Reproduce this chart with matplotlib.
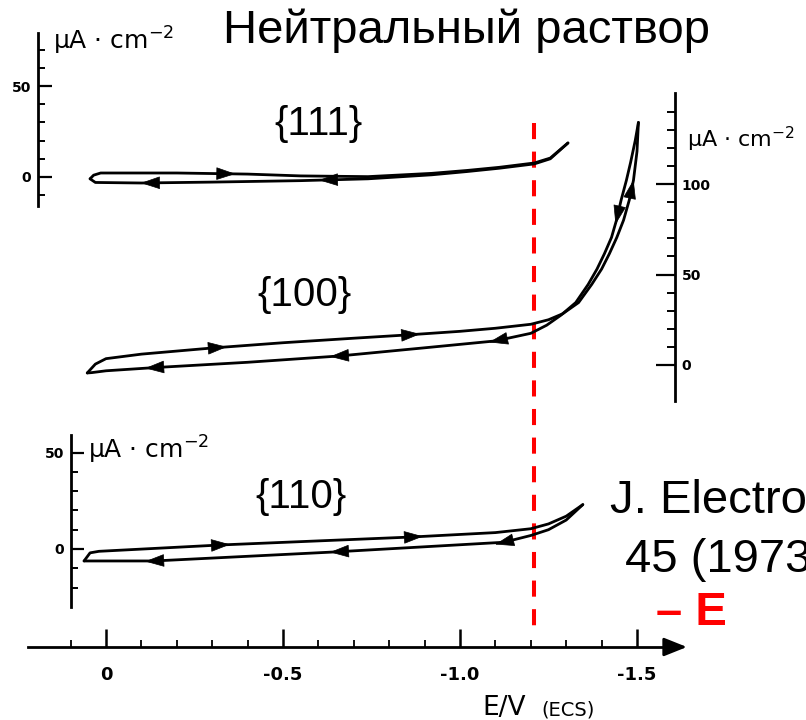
import numpy as np
import matplotlib
matplotlib.use('Agg')
import matplotlib.pyplot as plt
from matplotlib.ticker import FixedLocator, FixedFormatter


# cyclic voltammograms, E in V (ECS), j in uA/cm2
E111_FWD = [0.045, 0.035, 0.015, -0.2, -0.4, -0.55, -0.74, -0.92, -1.02, -1.11, -1.21, -1.255, -1.305]
I111_FWD = [-1.0, 1.0, 2.2, 2.2, 1.6, 0.6, 0.2, 2.0, 3.6, 5.3, 7.7, 10.4, 18.7]
E111_REV = [-1.305, -1.255, -1.21, -1.11, -1.02, -0.92, -0.74, -0.55, -0.3, -0.1, 0.03, 0.045]
I111_REV = [18.7, 10.0, 7.2, 4.8, 3.0, 1.2, -1.0, -2.0, -2.8, -3.3, -3.0, -1.0]

E100_FWD = [0.053, 0.03, 0.0, -0.1, -0.2, -0.3, -0.5, -0.7, -0.85, -1.0, -1.1, -1.2, -1.25,
            -1.29, -1.335, -1.372, -1.40, -1.422, -1.443, -1.462, -1.478, -1.490, -1.500, -1.504]
I100_FWD = [-4.4, 0.5, 3.5, 6.0, 7.7, 9.4, 12.3, 14.8, 16.6, 18.6, 20.3, 22.5, 25.0,
            28.3, 34.5, 44.5, 53, 61.5, 70.5, 80, 91, 102, 118, 134]
E100_REV = [-1.504, -1.495, -1.482, -1.470, -1.455, -1.442, -1.428, -1.408, -1.387, -1.362, -1.327,
            -1.285, -1.245, -1.2, -1.1, -0.9, -0.66, -0.4, -0.14, 0.0, 0.04, 0.053]
I100_REV = [134, 124, 112, 102, 91, 80, 70.5, 61.5, 53, 44.5, 34.5,
            27.5, 22.0, 17.5, 13.3, 9.5, 5.0, 1.5, -1.4, -3.2, -4.2, -4.4]

E110_FWD = [0.062, 0.045, 0.02, -0.325, -0.862, -1.1, -1.2, -1.25, -1.30, -1.347]
I110_FWD = [-6.2, -2.0, -1.2, 2.1, 6.2, 8.5, 10.5, 13, 17, 23]
E110_REV = [-1.347, -1.30, -1.25, -1.2, -1.124, -0.638, -0.136, 0.062]
I110_REV = [23, 15, 10, 7, 3.5, -1.6, -6.2, -6.2]

# scan-direction arrows (potential where each sits)
ARR111_FWD = [-0.34]
ARR111_REV = [-0.124, -0.627]
ARR100_FWD = [-0.316, -0.862, -1.485]
ARR100_REV = [-0.136, -0.658, -1.107, -1.445]
ARR110_FWD = [-0.325, -0.87]
ARR110_REV = [-0.136, -0.658, -1.124]

E_MARK = -1.21
X_MAJOR = [0.0, -0.5, -1.0, -1.5]
X_LABELS = ['0', '-0.5', '-1.0', '-1.5']
X_MINOR = [0.1, -0.1, -0.2, -0.3, -0.4, -0.6, -0.7, -0.8, -0.9, -1.1, -1.2, -1.3, -1.4]

W, H = 806, 720
fig = plt.figure(figsize=(W / 100, H / 100), dpi=100)
XLIM = (106 / 354, -(W - 106) / 354)


def overlay(zero_px, px_per_unit):
    ax = fig.add_axes([0, 0, 1, 1], facecolor='none')
    ax.set_xlim(*XLIM)
    ax.set_ylim((zero_px - H) / px_per_unit, zero_px / px_per_unit)
    for s in ax.spines.values():
        s.set_visible(False)
    ax.set_xticks([])
    ax.set_yticks([])
    return ax


def scale_axis(ax, side, at, lo, hi, major, minor, maj_len, min_len):
    sp = ax.spines[side]
    sp.set_visible(True)
    sp.set_position(('data', at))
    sp.set_bounds(lo, hi)
    sp.set_linewidth(2.0)
    ax.yaxis.set_ticks_position(side)
    ax.yaxis.set_major_locator(FixedLocator(major))
    ax.yaxis.set_minor_locator(FixedLocator(minor))
    ax.yaxis.set_major_formatter(FixedFormatter([str(m) for m in major]))
    ax.tick_params(axis='y', which='major', direction='in', length=maj_len, width=1.6,
                   labelsize=10, pad=5)
    ax.tick_params(axis='y', which='minor', direction='in', length=min_len, width=1.4)
    for t in ax.get_yticklabels():
        t.set_fontweight('bold')


def add_arrow(ax, e, i, e_at):
    for k in range(len(e) - 1):
        a, b = e[k], e[k + 1]
        if a != b and min(a, b) <= e_at <= max(a, b):
            t = (e_at - a) / (b - a)
            p = np.array([a + t * (b - a), i[k] + t * (i[k + 1] - i[k])])
            d = np.array([b - a, i[k + 1] - i[k]])
            break
    p0 = ax.transData.transform(p)
    p1 = ax.transData.transform(p + d)
    u = (p1 - p0) / np.hypot(*(p1 - p0))
    ax.annotate('', xy=p0 + 9 * u, xytext=p0 - 9 * u, xycoords='figure pixels',
                textcoords='figure pixels',
                arrowprops=dict(arrowstyle='-|>,head_length=0.9,head_width=0.3',
                                mutation_scale=14, color='black', lw=0.5,
                                shrinkA=0, shrinkB=0))


def loop(ax, ef, jf, er, jr, arr_f, arr_r):
    ax.plot(ef, jf, color='black', lw=2.0, solid_capstyle='round')
    ax.plot(er, jr, color='black', lw=2.0, solid_capstyle='round')
    for e in arr_f:
        add_arrow(ax, ef, jf, e)
    for e in arr_r:
        add_arrow(ax, er, jr, e)


unit = 'μA · cm$^{-2}$'
hkl_font = dict(family=['Liberation Sans', 'DejaVu Sans'], fontsize=29,
                ha='center', va='center')

# {111}
ax1 = overlay(177, 1.82)
scale_axis(ax1, 'left', 0.192, -16, 79, [0, 50], list(range(-10, 80, 10)), 10, 5)
loop(ax1, E111_FWD, I111_FWD, E111_REV, I111_REV, ARR111_FWD, ARR111_REV)
ax1.text(0.15, 69.8, unit, fontsize=18, va='baseline')
ax1.text(-0.599, 29, '{111}', **hkl_font)

# {100}
ax2 = overlay(365, 1.81)
scale_axis(ax2, 'right', -1.607, -20, 150, [0, 50, 100], list(range(0, 150, 10)), 14, 6)
loop(ax2, E100_FWD, I100_FWD, E100_REV, I100_REV, ARR100_FWD, ARR100_REV)
ax2.text(-1.641, 120.4, unit, fontsize=16, va='baseline')
ax2.text(-0.562, 38.7, '{100}', **hkl_font)

# {110}
ax3 = overlay(549, 1.93)
scale_axis(ax3, 'left', 0.099, -30, 59, [0, 50], list(range(-20, 60, 10)), 9, 5)
loop(ax3, E110_FWD, I110_FWD, E110_REV, I110_REV, ARR110_FWD, ARR110_REV)
ax3.text(0.051, 46.9, unit, fontsize=18, va='baseline')
ax3.text(-0.551, 27, '{110}', **hkl_font)

# potential axis
ax0 = fig.add_axes([0, 0, 1, 1], facecolor='none', zorder=-1)
ax0.set_xlim(*XLIM)
ax0.set_ylim(-(H - 647), 647)
for s in ['top', 'right', 'left']:
    ax0.spines[s].set_visible(False)
ax0.spines['bottom'].set_position(('data', 0))
ax0.spines['bottom'].set_bounds(0.22, -1.60)
ax0.spines['bottom'].set_linewidth(2.0)
ax0.set_yticks([])
ax0.xaxis.set_major_locator(FixedLocator(X_MAJOR))
ax0.xaxis.set_minor_locator(FixedLocator(X_MINOR))
ax0.xaxis.set_major_formatter(FixedFormatter(X_LABELS))
ax0.tick_params(axis='x', which='major', direction='in', length=13, width=1.8,
                labelsize=13, pad=14)
ax0.tick_params(axis='x', which='minor', direction='in', length=5, width=1.3)
for t in ax0.get_xticklabels():
    t.set_fontweight('bold')
ax0.annotate('', xy=(-1.641, 0), xytext=(-1.59, 0),
             arrowprops=dict(arrowstyle='-|>,head_length=1.0,head_width=0.4',
                             mutation_scale=14, color='black', lw=2, shrinkA=0, shrinkB=0))
ax0.plot([E_MARK, E_MARK], [524, 10], color='red', lw=2.9, ls=(0, (4.0, 3.1)))

# free text
def ftext(x, y, s, **kw):
    fig.text(x / W, 1 - y / H, s, va='baseline', ha='left', **kw)


ftext(223, 43, 'Нейтральный раствор', fontsize=34, family='Liberation Sans')
ftext(610, 513, 'J. Electroanal. Chem.', fontsize=34, family='Liberation Sans')
ftext(625, 572, '45 (1973)', fontsize=34, family='Liberation Sans')
ftext(656, 625, '– E', fontsize=34, family='Liberation Sans', weight='bold', color='red')
ftext(482, 715, 'E/V', fontsize=19)
ftext(541, 715, '(ECS)', fontsize=14)

fig.savefig('out.png', dpi=100)
